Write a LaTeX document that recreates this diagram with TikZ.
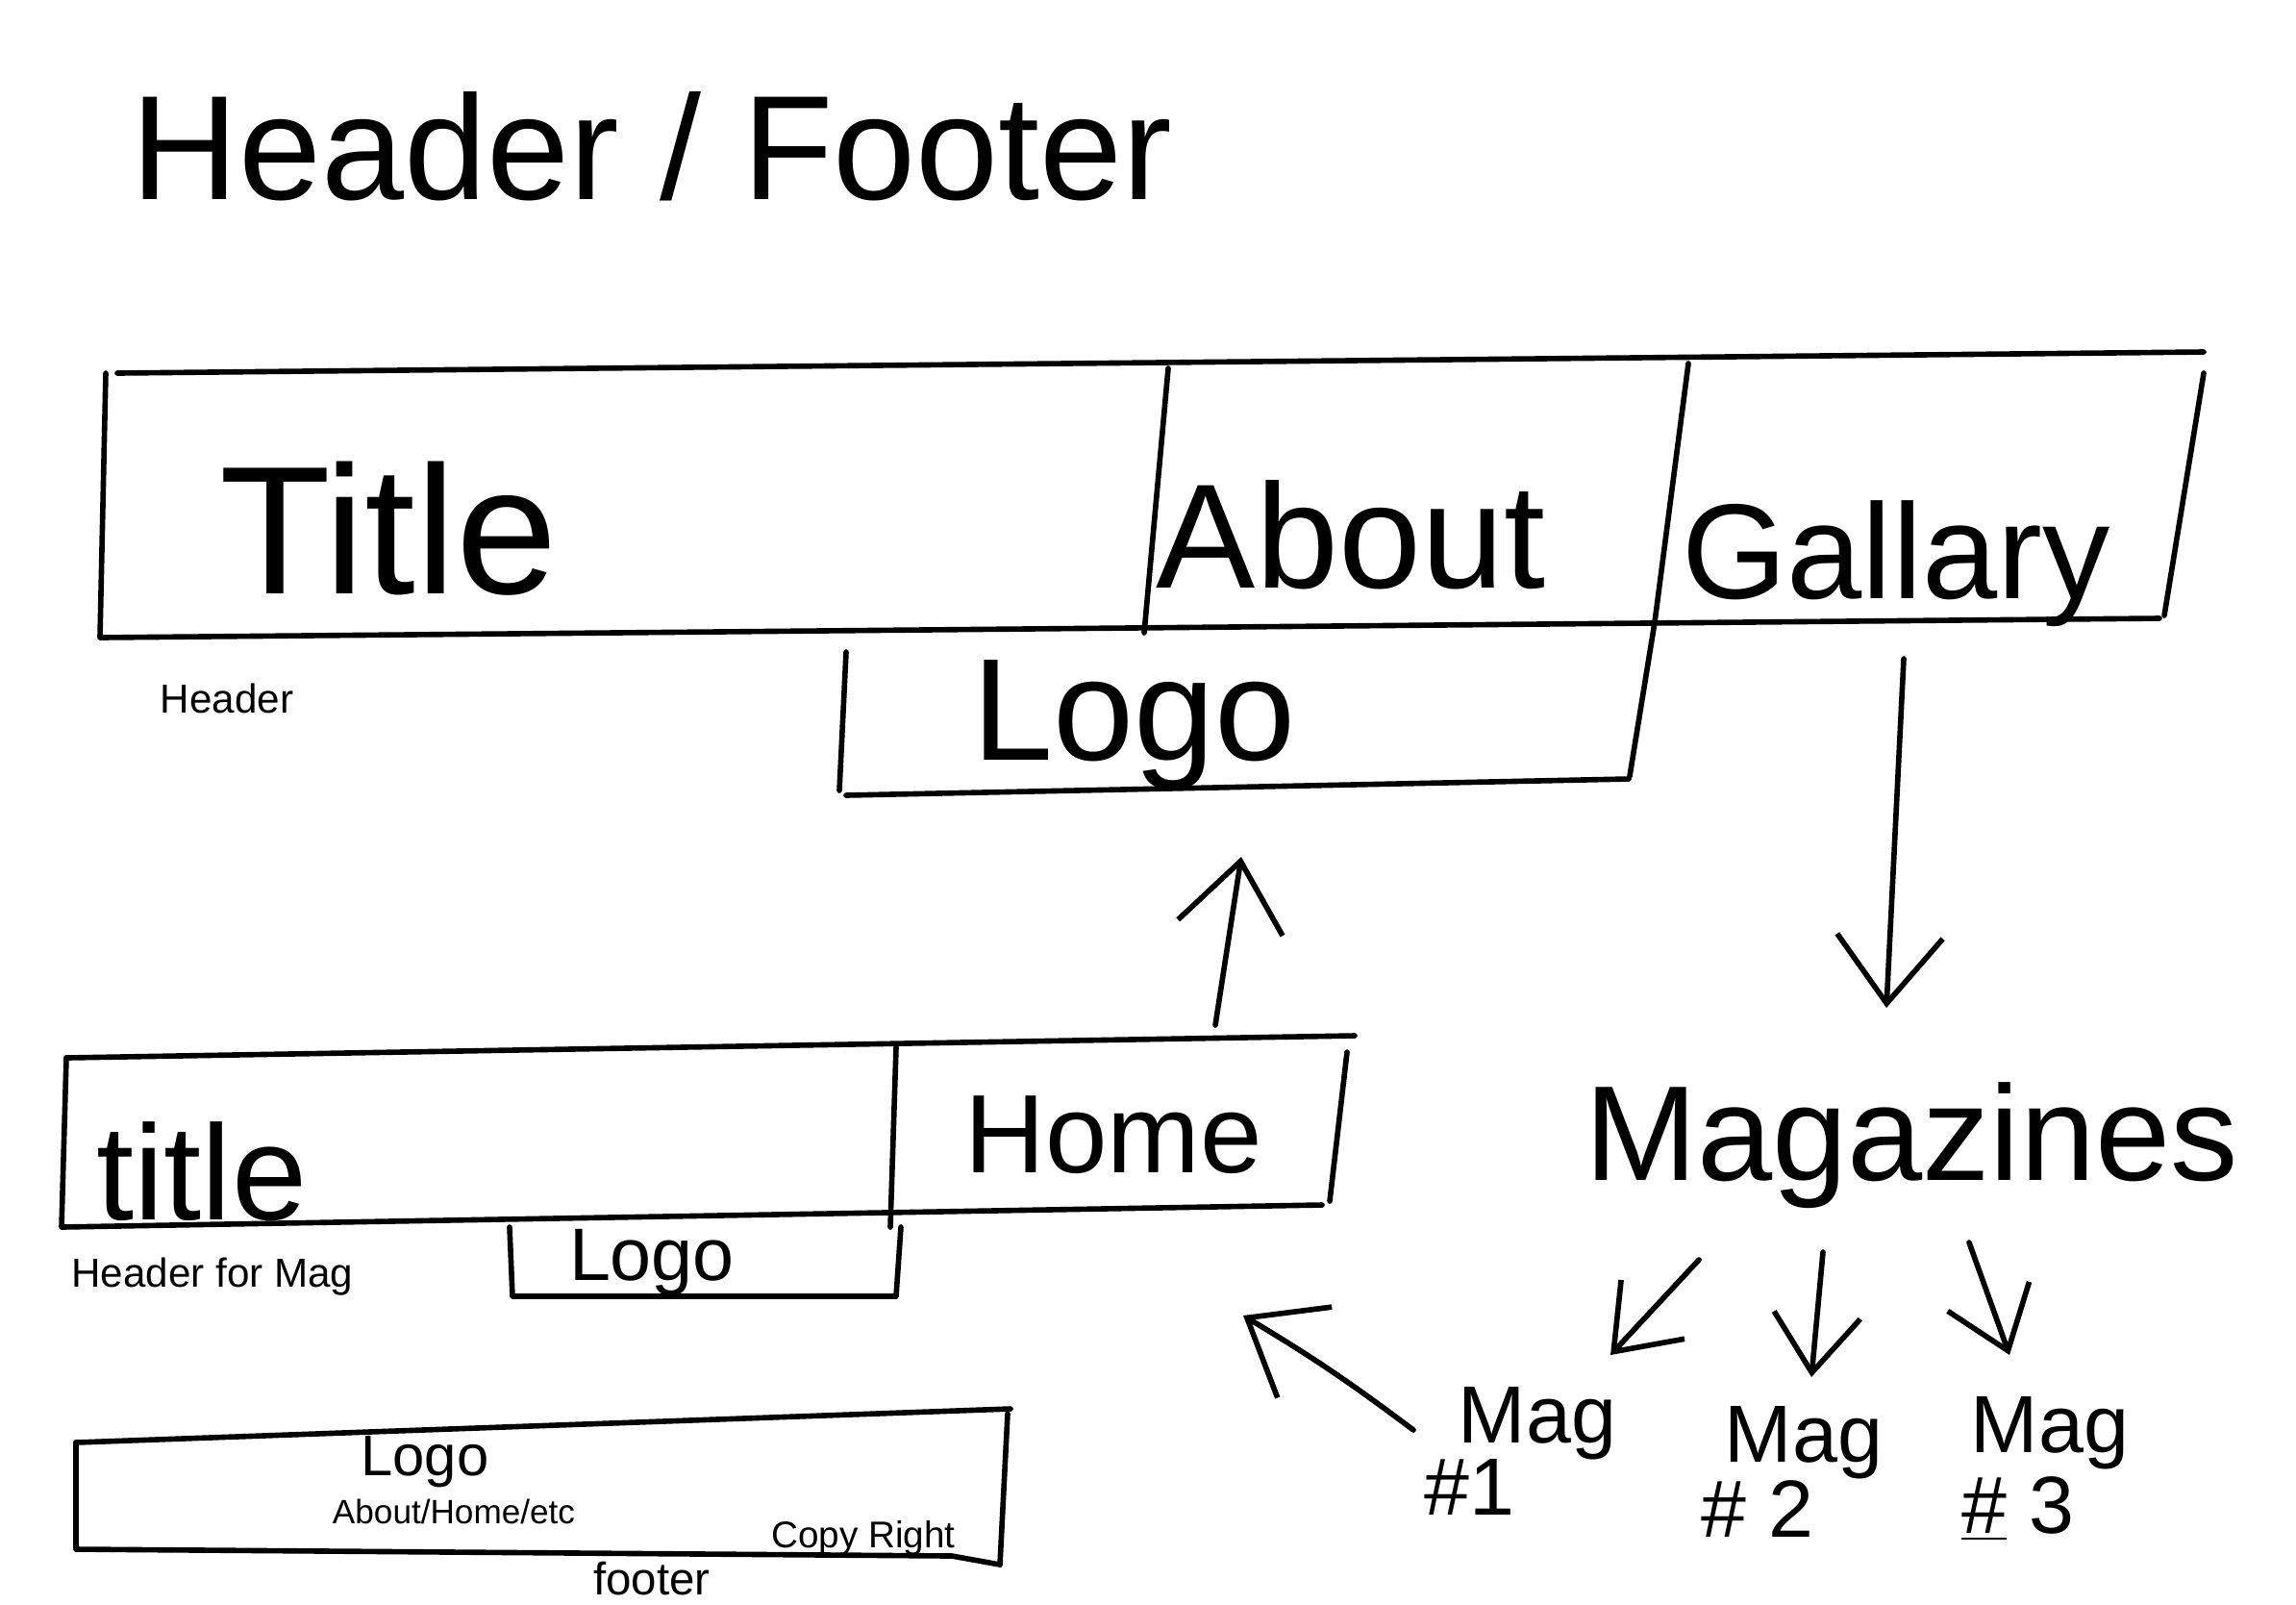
\documentclass[tikz,border=0pt]{standalone}
\usepackage{fontspec}
\setmainfont{Liberation Sans}
\usetikzlibrary{arrows.meta}

\begin{document}
\begin{tikzpicture}[line width=1.6pt, line cap=round, line join=round,
    sketcharrow/.style={-{Straight Barb[length=7mm,width=11mm,line width=1.6pt]}},
    smallarrow/.style={-{Straight Barb[length=6mm,width=9mm,line width=1.6pt]}},
    handtext/.style={inner sep=0pt, font=\fontsize{#1}{#1}\selectfont}]

    \useasboundingbox (0,0) rectangle (23.88,-16.68);

    % heading
    \node[handtext=44] (heading) at (6.78,-1.52) {Header / Footer};

    % main header bar
    \draw (1.22,-3.88) -- (22.92,-3.66);
    \draw (1.10,-3.88) -- (1.04,-6.63) -- (22.46,-6.43);
    \draw (22.92,-3.88) -- (22.51,-6.40);
    \draw (12.15,-3.83) -- (11.90,-6.58);
    \draw (17.56,-3.78) -- (17.21,-6.47) -- (16.95,-8.07);
    \draw (8.80,-6.78) -- (8.73,-8.22);
    \draw (8.80,-8.27) -- (16.94,-8.10);
    \node[handtext=54] (title) at (4.04,-5.50) {Title};
    \node[handtext=44] (about) at (14.05,-5.56) {About};
    \node[handtext=40] (gallary) at (19.72,-5.86) {Gallary};
    \node[handtext=43] (logo) at (11.80,-7.54) {Logo};
    \node[handtext=12] (headerlbl) at (2.36,-7.26) {Header};

    % header for magazines
    \draw (0.69,-11.00) -- (14.09,-10.77);
    \draw (0.69,-11.00) -- (0.64,-12.76) -- (13.75,-12.53);
    \draw (14.01,-10.94) -- (13.83,-12.49);
    \draw (9.32,-10.89) -- (9.26,-12.76);
    \draw (9.37,-12.76) -- (9.32,-13.48) -- (5.33,-13.48) -- (5.30,-12.76);
    \node[handtext=40] (magtitle) at (2.10,-12.18) {title};
    \node[handtext=33] (home) at (11.58,-11.80) {Home};
    \node[handtext=22] (maglogo) at (6.78,-13.13) {Logo};
    \node[handtext=12] (maglbl) at (2.21,-13.28) {Header for Mag};

    % footer
    \draw (0.79,-15.00) -- (10.51,-14.65);
    \draw (0.79,-15.00) -- (0.79,-16.11) -- (9.90,-16.18) -- (10.40,-16.27);
    \draw (10.48,-14.70) -- (10.40,-16.27);
    \node[handtext=17] (footlogo) at (4.42,-15.20) {Logo};
    \node[handtext=10] (footlinks) at (4.72,-15.72) {About/Home/etc};
    \node[handtext=11] (copyright) at (8.98,-15.99) {Copy Right};
    \node[handtext=13.5] (footerlbl) at (6.78,-16.42) {footer};

    % magazines
    \node[handtext=40] (magazines) at (19.88,-11.91) {Magazines};
    \node[handtext=24] (mag1) at (15.99,-14.80) {Mag};
    \node[handtext=24] (num1) at (15.28,-15.46) {\#1};
    \node[handtext=24] (mag2) at (18.76,-15.00) {Mag};
    \node[handtext=24] (num2) at (18.28,-15.69) {\# 2};
    \node[handtext=24] (mag3) at (21.32,-14.90) {Mag};
    \node[handtext=24] (num3) at (20.99,-15.69) {\underline{\#} 3};

    % arrows
    \coordinate (homeup) at (12.64,-10.66);
    \coordinate (logodown) at (12.91,-8.91);
    \coordinate (gallarydown) at (19.80,-6.85);
    \coordinate (magsup) at (19.62,-10.48);
    \coordinate (backstart) at (14.70,-14.87);
    \coordinate (backend) at (12.93,-13.68);
    \draw[sketcharrow] (homeup) -- (logodown);
    \draw[sketcharrow] (gallarydown) -- (magsup);
    \draw[smallarrow] (17.67,-13.10) -- (16.75,-14.09);
    \draw[smallarrow] (18.96,-13.02) -- (18.84,-14.32);
    \draw[smallarrow] (20.48,-12.92) -- (20.90,-14.09);
    \draw[sketcharrow] (backstart) to[bend right=3] (backend);

\end{tikzpicture}
\end{document}
